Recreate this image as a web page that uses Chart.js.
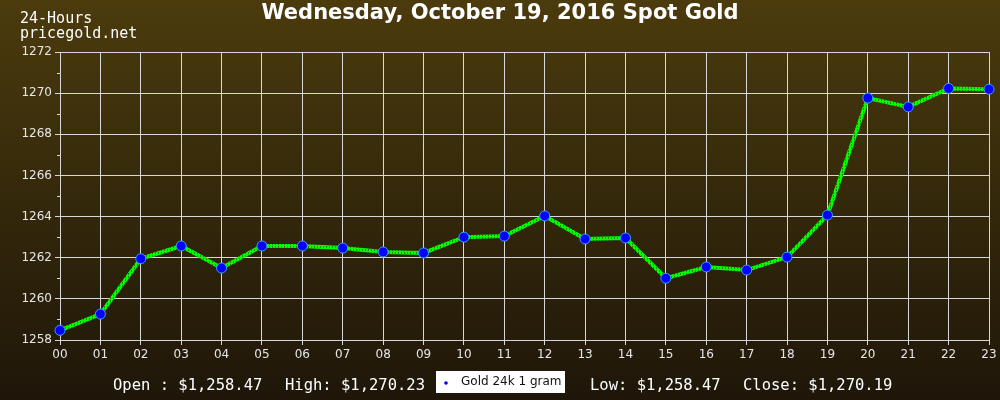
<!DOCTYPE html>
<html>
<head>
<meta charset="utf-8">
<script src="https://cdn.jsdelivr.net/npm/chart.js@4/dist/chart.umd.min.js"></script>
<style>
  html, body { margin: 0; padding: 0; background: #2a2110; }
  #wrap { width: 1000px; height: 400px; }
</style>
</head>
<body>
<div id="wrap"><canvas id="goldChart" width="1000" height="400"></canvas></div>
<script>
// ===== DATA =====
const hours = ['00','01','02','03','04','05','06','07','08','09','10','11',
               '12','13','14','15','16','17','18','19','20','21','22','23'];
const goldPrices = [1258.47, 1259.26, 1261.95, 1262.57, 1261.50, 1262.57, 1262.57, 1262.47,
                    1262.28, 1262.23, 1263.00, 1263.05, 1264.03, 1262.91, 1262.96, 1261.00,
                    1261.55, 1261.40, 1262.03, 1264.07, 1269.76, 1269.33, 1270.23, 1270.19];
const titleText = 'Wednesday, October 19, 2016 Spot Gold';
const subtitleLines = ['24-Hours', 'pricegold.net'];
const seriesLabel = 'Gold 24k 1 gram';
const stats = { open: 'Open : $1,258.47', high: 'High: $1,270.23', low: 'Low: $1,258.47', close: 'Close: $1,270.19' };
const yMin = 1258, yMax = 1272, yStep = 2;

document.addEventListener('DOMContentLoaded', () => {
    const canvas = document.getElementById('goldChart');

    // textured green stroke, like the jagged line of the original
    const pc = document.createElement('canvas');
    pc.width = 3; pc.height = 3;
    const pctx = pc.getContext('2d');
    pctx.fillStyle = '#00ff00';
    pctx.fillRect(0, 0, 3, 3);
    pctx.fillStyle = '#1c8a00';
    pctx.fillRect(2, 0, 1, 2);
    const greenPattern = canvas.getContext('2d').createPattern(pc, 'repeat');

    const decorations = {
        id: 'decorations',
        beforeDraw(chart) {
            const { ctx, width, height } = chart;
            const g = ctx.createLinearGradient(0, 0, 0, height);
            g.addColorStop(0, '#4b3b0d');
            g.addColorStop(1, '#1e1609');
            ctx.save();
            ctx.fillStyle = g;
            ctx.fillRect(0, 0, width, height);
            ctx.restore();
        },
        afterDraw(chart) {
            const { ctx, scales: { y }, chartArea } = chart;
            ctx.save();
            // minor ticks on the y axis
            ctx.strokeStyle = '#d8d8d8';
            ctx.lineWidth = 1;
            for (let v = yMin + 1; v < yMax; v += 2) {
                const py = Math.round(y.getPixelForValue(v)) + 0.5;
                ctx.beginPath();
                ctx.moveTo(chartArea.left - 3, py);
                ctx.lineTo(chartArea.left, py);
                ctx.stroke();
            }
            // title
            ctx.fillStyle = '#ffffff';
            ctx.textBaseline = 'middle';
            ctx.textAlign = 'center';
            ctx.font = 'bold 21px "DejaVu Sans"';
            ctx.fillText(titleText, 500, 14);
            // subtitle
            ctx.textAlign = 'left';
            ctx.font = '15px "DejaVu Sans Mono"';
            ctx.fillText(subtitleLines[0], 20, 19);
            ctx.fillText(subtitleLines[1], 20, 34);
            // stats along the bottom
            ctx.font = '15.5px "DejaVu Sans Mono"';
            ctx.fillText(stats.open, 113, 386);
            ctx.fillText(stats.high, 285, 386);
            ctx.fillText(stats.low, 590, 386);
            ctx.fillText(stats.close, 743, 386);
            // legend box
            ctx.fillStyle = '#ffffff';
            ctx.fillRect(436, 371, 129, 22);
            ctx.fillStyle = '#0000ff';
            ctx.beginPath();
            ctx.arc(446, 383, 1.8, 0, Math.PI * 2);
            ctx.fill();
            ctx.fillStyle = '#111111';
            ctx.font = '12px "DejaVu Sans"';
            ctx.fillText(seriesLabel, 461, 382);
            ctx.restore();
        }
    };

    new Chart(canvas, {
        type: 'line',
        data: {
            labels: hours,
            datasets: [{
                label: seriesLabel,
                data: goldPrices,
                borderColor: greenPattern,
                borderWidth: 4,
                tension: 0,
                pointRadius: 5,
                pointBackgroundColor: '#0000ff',
                pointBorderColor: '#3aa0ff',
                pointBorderWidth: 1,
                fill: false
            }]
        },
        options: {
            responsive: false,
            animation: false,
            layout: { padding: { top: 52, right: 11, left: 0, bottom: 0 } },
            plugins: {
                legend: { display: false },
                title: { display: false },
                tooltip: { enabled: false }
            },
            scales: {
                x: {
                    offset: false,
                    grid: { color: '#d8d8d8', lineWidth: 1, tickLength: 5, drawTicks: true },
                    border: { color: '#d8d8d8' },
                    ticks: { color: '#e6e6e6', font: { family: 'DejaVu Sans', size: 12 }, maxRotation: 0, autoSkip: false, padding: 3 },
                    afterFit(scale) { scale.height = 60; }
                },
                y: {
                    min: yMin,
                    max: yMax,
                    grid: { color: '#d8d8d8', lineWidth: 1, tickLength: 5 },
                    border: { color: '#d8d8d8' },
                    ticks: {
                        stepSize: yStep, color: '#e6e6e6', font: { family: 'DejaVu Sans', size: 12 }, padding: 3,
                        callback: (v) => String(v)
                    },
                    afterFit(scale) { scale.width = 60; }
                }
            }
        },
        plugins: [decorations]
    });
});
</script>
</body>
</html>
